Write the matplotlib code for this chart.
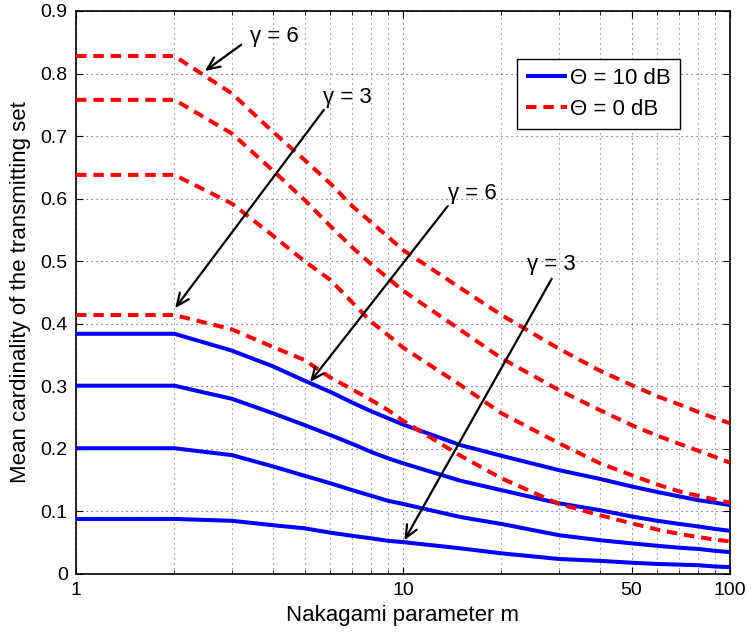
import matplotlib
matplotlib.use("Agg")
import matplotlib.pyplot as plt
from matplotlib.ticker import FixedLocator, NullFormatter, FixedFormatter

plt.rcParams['font.family'] = ['Liberation Sans', 'DejaVu Sans']

m = [1, 2, 3, 4, 5, 6, 7, 8, 9, 10, 15, 20, 30, 40, 50, 60, 70, 80, 90, 100]

# Theta = 0 dB (red dashed), top to bottom
red1 = [0.828, 0.828, 0.768, 0.707, 0.662, 0.624, 0.588, 0.562, 0.539, 0.518, 0.457, 0.414, 0.360, 0.325, 0.302, 0.284, 0.271, 0.259, 0.249, 0.241]
red2 = [0.758, 0.758, 0.704, 0.645, 0.598, 0.556, 0.522, 0.495, 0.473, 0.453, 0.390, 0.345, 0.294, 0.262, 0.238, 0.221, 0.208, 0.197, 0.187, 0.178]
red3 = [0.638, 0.638, 0.592, 0.541, 0.500, 0.470, 0.434, 0.403, 0.382, 0.362, 0.302, 0.257, 0.209, 0.177, 0.158, 0.143, 0.132, 0.125, 0.119, 0.114]
red4 = [0.414, 0.414, 0.391, 0.363, 0.342, 0.314, 0.295, 0.278, 0.262, 0.245, 0.189, 0.153, 0.112, 0.094, 0.081, 0.071, 0.064, 0.059, 0.055, 0.052]

# Theta = 10 dB (blue solid), top to bottom
blue1 = [0.384, 0.384, 0.357, 0.332, 0.309, 0.291, 0.274, 0.260, 0.249, 0.239, 0.206, 0.189, 0.166, 0.152, 0.140, 0.131, 0.124, 0.118, 0.114, 0.110]
blue2 = [0.301, 0.301, 0.280, 0.257, 0.238, 0.222, 0.208, 0.195, 0.185, 0.177, 0.149, 0.134, 0.113, 0.102, 0.092, 0.085, 0.080, 0.076, 0.072, 0.069]
blue3 = [0.201, 0.201, 0.190, 0.172, 0.157, 0.145, 0.134, 0.125, 0.117, 0.112, 0.091, 0.080, 0.062, 0.054, 0.049, 0.045, 0.042, 0.040, 0.037, 0.035]
blue4 = [0.088, 0.088, 0.085, 0.078, 0.073, 0.066, 0.061, 0.057, 0.053, 0.051, 0.041, 0.033, 0.024, 0.021, 0.018, 0.016, 0.015, 0.014, 0.012, 0.011]

xticks = [1, 10, 50, 100]
xticklabels = ['1', '10', '50', '100']
xminor = [2, 3, 4, 5, 6, 7, 8, 9, 20, 30, 40, 60, 70, 80, 90]
yticks = [0, 0.1, 0.2, 0.3, 0.4, 0.5, 0.6, 0.7, 0.8, 0.9]
yticklabels = ['0', '0.1', '0.2', '0.3', '0.4', '0.5', '0.6', '0.7', '0.8', '0.9']

# annotations: (text, text pos, arrow tail, arrow head)
annots = [
    ('γ = 6', (3.40, 0.860), (3.20, 0.846), (2.48, 0.804)),
    ('γ = 3', (5.69, 0.762), (5.73, 0.742), (2.01, 0.425)),
    ('γ = 6', (13.7, 0.609), (13.7, 0.588), (5.20, 0.307)),
    ('γ = 3', (23.9, 0.494), (28.5, 0.472), (10.1, 0.054)),
]

fig = plt.figure(figsize=(7.51, 6.32), dpi=100)
ax = fig.add_axes([0.1012, 0.0918, 0.8708, 0.8908])

lw = 2.9
blues = [blue1, blue2, blue3, blue4]
reds = [red1, red2, red3, red4]
for i, b in enumerate(blues):
    ax.plot(m, b, color='#0000ff', lw=lw, solid_capstyle='butt', solid_joinstyle='round',
            label='Θ = 10 dB' if i == 0 else None, zorder=3)
for i, r in enumerate(reds):
    ax.plot(m, r, color='#ff0000', lw=lw, linestyle=(0, (2.6, 1.7)),
            label='Θ = 0 dB' if i == 0 else None, zorder=3)

ax.set_xscale('log')
ax.set_xlim(1, 100)
ax.set_ylim(0, 0.9)
ax.xaxis.set_major_locator(FixedLocator(xticks))
ax.xaxis.set_major_formatter(FixedFormatter(xticklabels))
ax.xaxis.set_minor_locator(FixedLocator(xminor))
ax.xaxis.set_minor_formatter(NullFormatter())
ax.set_yticks(yticks)
ax.set_yticklabels(yticklabels)

ax.tick_params(which='both', direction='in', top=True, right=True, labelsize=14, pad=6)
ax.tick_params(which='major', length=5, width=0.8)
ax.tick_params(which='minor', length=3, width=0.6)

ax.grid(True, which='major', linestyle=(0, (1, 3.5)), color='0.3', lw=0.8)
ax.grid(True, which='minor', axis='x', linestyle=(0, (1, 3.5)), color='0.45', lw=0.8)
ax.set_axisbelow(True)
for s in ax.spines.values():
    s.set_linewidth(1.2)

ax.set_xlabel('Nakagami parameter m', fontsize=16, labelpad=4)
ax.set_ylabel('Mean cardinality of the transmitting set', fontsize=16, labelpad=7)

for txt, tpos, tail, head in annots:
    ax.annotate('', xy=head, xytext=tail,
                arrowprops=dict(arrowstyle='->,head_length=0.9,head_width=0.4', color='black', lw=1.6,
                                shrinkA=0, shrinkB=0), zorder=5)
    ax.text(tpos[0], tpos[1], txt, fontsize=16, ha='left', va='center', zorder=5)

leg = ax.legend(loc='upper right', bbox_to_anchor=(0.9235, 0.9147), fontsize=16,
                handlelength=1.85, handletextpad=0.15, borderpad=0.4, labelspacing=0.45,
                fancybox=False, framealpha=1, edgecolor='black', borderaxespad=0)
leg.get_frame().set_linewidth(1.0)

fig.savefig('out.png', dpi=100)
